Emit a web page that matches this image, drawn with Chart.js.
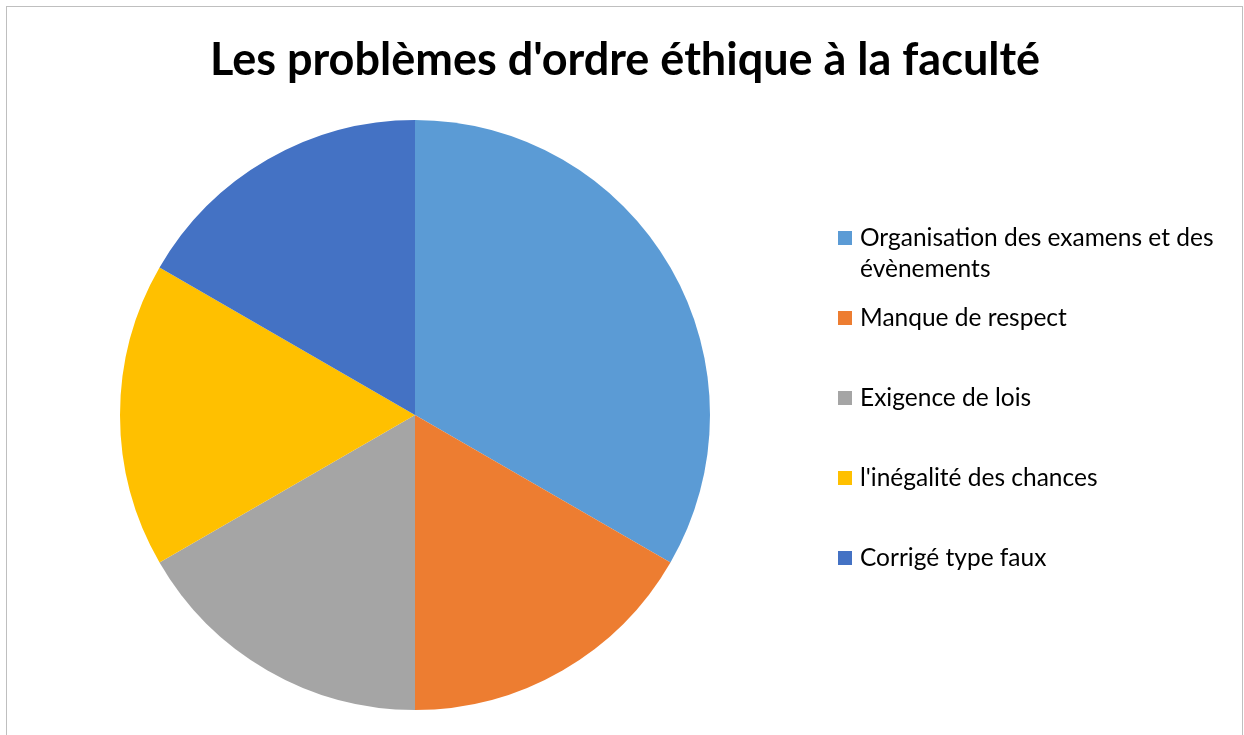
<!DOCTYPE html>
<html>
<head>
<meta charset="utf-8">
<script src="https://cdn.jsdelivr.net/npm/chart.js@4.4.0/dist/chart.umd.min.js"></script>
<style>
  html, body { margin: 0; padding: 0; background: #fff; }
  #wrap { position: relative; width: 1244px; height: 735px; }
  #frame { position: absolute; left: 6px; top: 6px; width: 1237px; height: 740px; border: 1px solid #bfbfbf; box-sizing: border-box; pointer-events: none; }
</style>
</head>
<body>
<div id="wrap">
  <canvas id="pieChart" width="1244" height="735"></canvas>
  <div id="frame"></div>
</div>
<script>
const titleText = "Les problèmes d'ordre éthique à la faculté";
const categories = [
  'Organisation des examens et des évènements',
  'Manque de respect',
  'Exigence de lois',
  "l'inégalité des chances",
  'Corrigé type faux'
];
const values = [2, 1, 1, 1, 1];
const colors = ['#5B9BD5', '#ED7D31', '#A5A5A5', '#FFC000', '#4472C4'];

const titleFont = "bold 45px Lato, sans-serif";
const legendFont = "24.5px Lato, sans-serif";

// split a label into lines that fit maxWidth
function wrapLabel(ctx, label, maxWidth) {
  const words = label.split(' ');
  const lines = [];
  let cur = '';
  for (const w of words) {
    const test = (cur + ' ' + w).trim();
    if (ctx.measureText(test).width > maxWidth && cur.length > 0) {
      lines.push(cur);
      cur = w;
    } else {
      cur = test;
    }
  }
  if (cur.length > 0) lines.push(cur);
  return lines;
}

// title centred on the whole frame, legend on the right
const decorations = {
  id: 'decorations',
  afterDraw(chart) {
    const ctx = chart.ctx;
    const ds = chart.data.datasets[0];
    ctx.save();
    ctx.fillStyle = '#000';
    ctx.textAlign = 'center';
    ctx.textBaseline = 'middle';
    ctx.font = titleFont;
    ctx.fillText(titleText, 625, 60);

    ctx.textAlign = 'left';
    ctx.font = legendFont;
    chart.data.labels.forEach((label, i) => {
      const y = 238 + i * 80;
      ctx.fillStyle = ds.backgroundColor[i];
      ctx.fillRect(838, y - 7, 14, 14);
      ctx.fillStyle = '#000';
      const lines = wrapLabel(ctx, label, 370);
      lines.forEach((ln, k) => ctx.fillText(ln, 860, y + k * 31));
    });
    ctx.restore();
  }
};

new Chart(document.getElementById('pieChart'), {
  type: 'pie',
  data: {
    labels: categories,
    datasets: [{ data: values, backgroundColor: colors, borderWidth: 0, hoverOffset: 0 }]
  },
  options: {
    responsive: false,
    animation: false,
    layout: { padding: { left: 120, right: 534, top: 120, bottom: 25 } },
    plugins: {
      legend: { display: false },
      tooltip: { enabled: false },
      title: { display: false }
    }
  },
  plugins: [decorations]
});
</script>
</body>
</html>
